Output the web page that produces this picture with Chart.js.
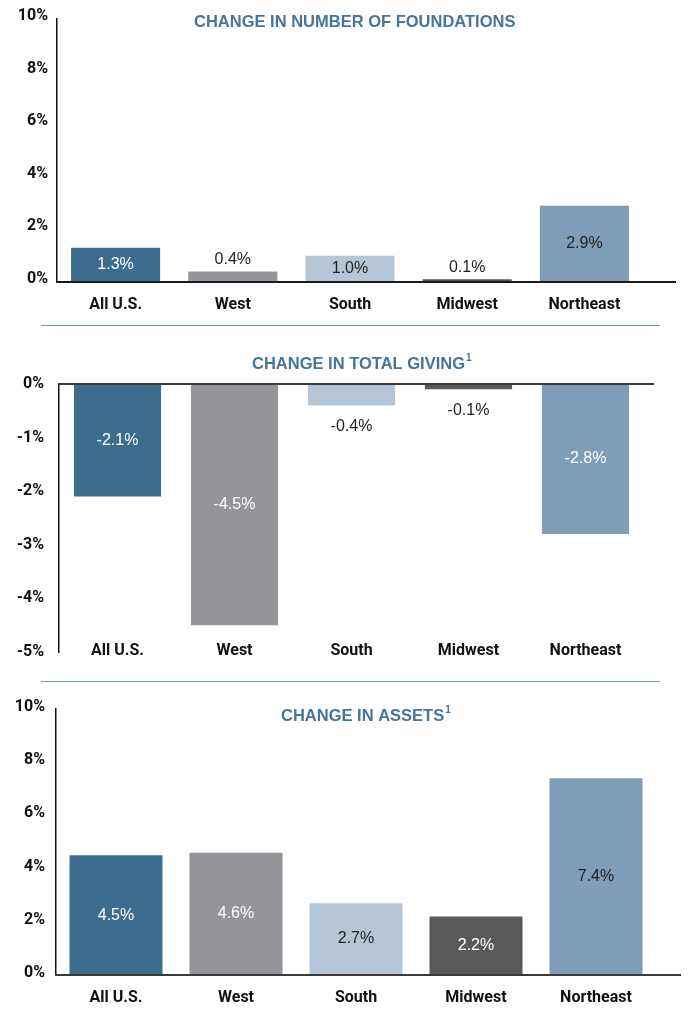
<!DOCTYPE html>
<html lang="en">
<head>
<meta charset="utf-8" />
<title>Change by region</title>
<script src="https://cdn.jsdelivr.net/npm/chart.js@4.4.1/dist/chart.umd.min.js"></script>
<style>
    html, body { margin: 0; padding: 0; background: #fff; }
    body { width: 688px; height: 1009px; position: relative; overflow: hidden; }
    .panel { position: absolute; left: 0; width: 688px; }
    .rule { position: absolute; left: 41px; width: 619px; height: 1px; background: #6f9bbb; }
</style>
</head>
<body>
<div class="panel" style="top:0;height:320px"><canvas id="foundations"></canvas></div>
<div class="rule" style="top:325px"></div>
<div class="panel" style="top:330px;height:347px"><canvas id="giving"></canvas></div>
<div class="rule" style="top:681px"></div>
<div class="panel" style="top:690px;height:319px"><canvas id="assets"></canvas></div>

<script>
    // data
    const regions = ['All U.S.', 'West', 'South', 'Midwest', 'Northeast'];
    const foundationsChange = [1.3, 0.4, 1.0, 0.1, 2.9];
    const givingChange = [-2.1, -4.5, -0.4, -0.1, -2.8];
    const assetsChange = [4.5, 4.6, 2.7, 2.2, 7.4];
    const positiveTicks = [0, 2, 4, 6, 8, 10];
    const negativeTicks = [-5, -4, -3, -2, -1, 0];

    const regionColors = ['#3d6d8e', '#939598', '#b5c7d7', '#58595b', '#7f9db8'];
    const titleColor = '#44769a';
    const inkColor = '#111111';
    const axisFont = { family: 'Roboto, "Liberation Sans", sans-serif', size: 16, weight: 'bold' };

    Chart.defaults.animation = false;
    Chart.defaults.plugins.legend.display = false;
    Chart.defaults.plugins.tooltip.enabled = false;

    // zero line, allowed to run past the last bar
    const baseline = {
        id: 'baseline',
        afterDatasetsDraw(chart, args, opts) {
            const { ctx, chartArea, scales } = chart;
            const y = scales.y.getPixelForValue(0);
            ctx.save();
            ctx.strokeStyle = opts.color;
            ctx.lineWidth = opts.width;
            ctx.beginPath();
            ctx.moveTo(chartArea.left - 1, y);
            ctx.lineTo(opts.right, y);
            ctx.stroke();
            ctx.restore();
        }
    };

    // value labels, inside the bar or just past its end when the bar is tiny
    const valueLabels = {
        id: 'valueLabels',
        afterDatasetsDraw(chart, args, opts) {
            const { ctx } = chart;
            const values = chart.data.datasets[0].data;
            ctx.save();
            ctx.font = '16px "Liberation Sans", Arial, sans-serif';
            ctx.textAlign = 'center';
            ctx.textBaseline = 'middle';
            chart.getDatasetMeta(0).data.forEach((bar, i) => {
                const v = values[i];
                let y;
                if (Math.abs(v) < 0.5) {
                    y = v >= 0 ? bar.y - opts.gap : bar.y + opts.gap;
                    ctx.fillStyle = '#222';
                } else {
                    y = (bar.y + bar.base) / 2;
                    ctx.fillStyle = opts.colors[i];
                }
                ctx.fillText(v.toFixed(1) + '%', bar.x, y);
            });
            ctx.restore();
        }
    };

    const panelTitle = {
        id: 'panelTitle',
        afterDraw(chart, args, opts) {
            const { ctx } = chart;
            ctx.save();
            ctx.fillStyle = titleColor;
            ctx.textAlign = 'left';
            ctx.textBaseline = 'middle';
            ctx.font = 'bold 16.5px "Liberation Sans", Arial, sans-serif';
            ctx.fillText(opts.text, opts.x, opts.y);
            if (opts.sup) {
                const w = ctx.measureText(opts.text).width;
                ctx.font = 'bold 10px "Liberation Sans", Arial, sans-serif';
                ctx.fillText(opts.sup, opts.x + w + 1, opts.y - 6);
            }
            ctx.restore();
        }
    };

    function makeChart(id, values, ticks, cfg) {
        return new Chart(document.getElementById(id), {
            type: 'bar',
            data: {
                labels: regions,
                datasets: [{
                    data: values,
                    backgroundColor: regionColors,
                    barPercentage: cfg.barPct,
                    categoryPercentage: 1
                }]
            },
            plugins: [baseline, valueLabels, panelTitle],
            options: {
                responsive: true,
                maintainAspectRatio: false,
                layout: { padding: cfg.padding },
                scales: {
                    x: {
                        afterFit: s => { s.height = cfg.xHeight; },
                        grid: { display: false },
                        border: { display: false },
                        ticks: {
                            padding: cfg.xPad, mirror: !!cfg.xMirror, color: inkColor,
                            font: axisFont, maxRotation: 0, autoSkip: false
                        }
                    },
                    y: {
                        min: Math.min(...ticks),
                        max: Math.max(...ticks),
                        afterFit: s => { s.width = cfg.yWidth; },
                        afterBuildTicks: s => { s.ticks = ticks.map(v => ({ value: v })); },
                        grid: { display: false },
                        border: { display: true, color: inkColor, width: 1.5 },
                        ticks: {
                            padding: cfg.yPad, color: inkColor, font: axisFont,
                            labelOffset: cfg.yShift, callback: v => v + '%'
                        }
                    }
                },
                plugins: {
                    baseline: { color: cfg.lineColor, width: 2, right: cfg.lineRight },
                    valueLabels: { gap: cfg.gap, colors: cfg.labelColors },
                    panelTitle: cfg.title
                }
            }
        });
    }

    makeChart('foundations', foundationsChange, positiveTicks, {
        barPct: 0.76, padding: { top: 19, right: 45, bottom: 0, left: 0 },
        xHeight: 38, xPad: 5, yWidth: 57, yPad: 1, yShift: -3,
        lineColor: '#1a1a1a', lineRight: 676, gap: 12,
        labelColors: ['#fff', '#222', '#222', '#222', '#222'],
        title: { text: 'CHANGE IN NUMBER OF FOUNDATIONS', x: 194, y: 22 }
    });

    // mirrored ticks so the region names sit level with the -5% tick
    makeChart('giving', givingChange, negativeTicks, {
        barPct: 0.745, padding: { top: 54, right: 44, bottom: 0, left: 0 },
        xHeight: 25, xPad: -9, xMirror: true, yWidth: 59, yPad: 7, yShift: 0,
        lineColor: '#3a3a3a', lineRight: 654, gap: 21,
        labelColors: ['#fff', '#fff', '#222', '#222', '#fff'],
        title: { text: 'CHANGE IN TOTAL GIVING', sup: '1', x: 252, y: 34 }
    });

    makeChart('assets', assetsChange, positiveTicks, {
        barPct: 0.775, padding: { top: 19, right: 32, bottom: 0, left: 0 },
        xHeight: 34, xPad: 5, yWidth: 56, yPad: 3, yShift: -2,
        lineColor: '#3a3a3a', lineRight: 681, gap: 12,
        labelColors: ['#fff', '#fff', '#222', '#fff', '#222'],
        title: { text: 'CHANGE IN ASSETS', sup: '1', x: 281, y: 26 }
    });
</script>
</body>
</html>
